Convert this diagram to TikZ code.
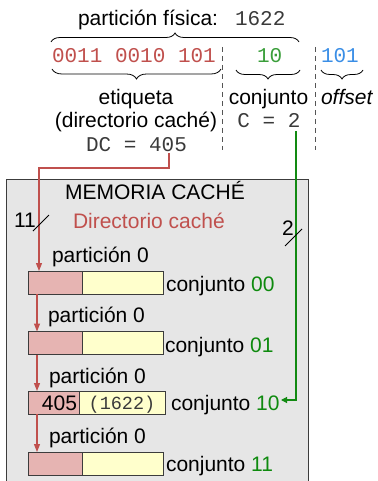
\documentclass[tikz,border=0pt]{standalone}
\usepackage{fontspec}
\setmainfont{Liberation Sans}
\setmonofont{Liberation Mono}
\usetikzlibrary{decorations.pathreplacing,arrows.meta,calc}
\definecolor{tagred}{HTML}{C0504D}
\definecolor{bitgreen}{HTML}{3A9E3A}
\definecolor{setgreen}{HTML}{0E8A0E}
\definecolor{linegreen}{HTML}{128A12}
\definecolor{bitblue}{HTML}{3A8EE6}
\definecolor{monogray}{HTML}{3A3A3A}
\definecolor{memfill}{HTML}{E6E6E6}
\definecolor{memborder}{HTML}{3C3C3C}
\definecolor{pinkfill}{HTML}{E6B4B2}
\definecolor{yellowfill}{HTML}{FFFFCC}
\definecolor{dashgray}{HTML}{555555}
\begin{document}
\begin{tikzpicture}[x=1pt,y=-1pt,
  every node/.style={inner sep=0pt,outer sep=0pt,font=\fontsize{21}{25}\selectfont},
  lbl/.style={anchor=base west},
  clbl/.style={anchor=base},
  mono/.style={font=\fontsize{21}{25}\selectfont\ttfamily,text=monogray},
  cellbox/.style={draw=memborder,line width=0.9pt,minimum height=23pt,anchor=north west},
  pinkcell/.style={cellbox,fill=pinkfill},
  yellowcell/.style={cellbox,fill=yellowfill},
  bracestyle/.style={decorate,line width=0.8pt},
  dashline/.style={draw=dashgray,line width=1pt,dash pattern=on 5pt off 4pt},
  redarrow/.style={draw=tagred,line width=1.3pt,-{Triangle[length=8pt,width=6pt]}},
  greenarrow/.style={draw=linegreen,line width=1.2pt,-{Triangle[length=6pt,width=6pt]}},
  slash/.style={draw=black,line width=0.8pt}]
\useasboundingbox (0,0) rectangle (377,481);

% top title
\node[lbl] (ptitle) at (78,26) {partición física:};
\node[lbl,mono] (pnum) at (235,26) {1622};
\draw[bracestyle,decoration={brace,amplitude=9pt}] (51,42) -- (299,42);

% bits
\node[lbl,mono,text=tagred] (bitsA) at (52,63) {0011 0010 101};
\node[lbl,mono,text=bitgreen] (bitsB) at (257,63) {10};
\node[lbl,mono,text=bitblue] (bitsC) at (321,63) {101};

% dashed separators
\draw[dashline] (222,47) -- (222,150);
\draw[dashline] (315,47) -- (315,150);

% bottom braces
\draw[bracestyle,decoration={brace,mirror,amplitude=10pt}] (52,69) -- (221,69);
\draw[bracestyle,decoration={brace,mirror,amplitude=9pt}] (236,70) -- (300,70);
\draw[bracestyle,decoration={brace,mirror,amplitude=9pt}] (321,70) -- (363,70);

% labels below bits
\node[clbl] (etiq) at (136,105) {etiqueta};
\node[clbl] (dirc) at (136,128) {(directorio caché)};
\node[clbl,mono] (dc) at (136.5,152) {DC = 405};
\node[clbl] (conj) at (268.5,105) {conjunto};
\node[clbl,mono] (cval) at (269,128) {C = 2};
\node[lbl,font=\fontsize{21}{25}\selectfont\itshape] (offs) at (321,105) {offset};

% cache memory box
\fill[memfill] (6,179) rectangle (308,495);
\draw[memborder,line width=1pt] (6,495) -- (6,179) -- (308,179) -- (308,495);
\node[clbl] (memt) at (155,199) {MEMORIA CACHÉ};
\node[lbl,text=tagred] (dirt) at (73,228) {Directorio caché};
\node[lbl] (n11) at (14,227) {11};
\node[lbl] (n2) at (282,235) {2};

% rows
\node[lbl] (part1) at (52,262) {partición 0};
\node[pinkcell,minimum width=54pt] (p1) at (28,271) {};
\node[yellowcell,minimum width=81pt] (y1) at (82,271) {};
\node[lbl] (c1) at (166,291) {conjunto \textcolor{setgreen}{00}};

\node[lbl] (part2) at (48,322) {partición 0};
\node[pinkcell,minimum width=54pt] (p2) at (28,331.5) {};
\node[yellowcell,minimum width=81pt] (y2) at (82,331.5) {};
\node[lbl] (c2) at (165,352) {conjunto \textcolor{setgreen}{01}};

\node[lbl] (part3) at (49,383) {partición 0};
\node[pinkcell,minimum width=51pt] (p3) at (28,391) {};
\node[yellowcell,minimum width=86pt] (y3) at (79,391) {};
\node[anchor=base east] (v405) at (77,410) {405};
\node[anchor=base,font=\fontsize{18.5}{22}\selectfont\ttfamily,text=monogray] (v1622) at (122,409) {(1622)};
\node[lbl] (c3) at (171,410) {conjunto \textcolor{setgreen}{10}};

\node[lbl] (part4) at (49,443) {partición 0};
\node[pinkcell,minimum width=54pt] (p4) at (28,452) {};
\node[yellowcell,minimum width=81pt] (y4) at (82,452) {};
\node[lbl] (c4) at (166,471) {conjunto \textcolor{setgreen}{11}};

% red connector from DC to directory
\coordinate (r0) at (169,153);
\coordinate (r1) at (39,168);
\draw[redarrow] (r0) |- (r1) -- (r1 |- p1.north);
\coordinate (ra) at (37,0);
\draw[redarrow] (ra |- p1.south) -- (ra |- p2.north);
\draw[redarrow] (ra |- p2.south) -- (ra |- p3.north);
\draw[redarrow] (ra |- p3.south) -- (ra |- p4.north);

% green connector from C to set 10
\coordinate (g0) at (296,131.5);
\coordinate (gtip) at (281,400);
\draw[greenarrow] (g0) |- (gtip);

% bus width slashes
\draw[slash] (33,231) -- (49,215);
\draw[slash] (285,246) -- (302,229);
\end{tikzpicture}
\end{document}
